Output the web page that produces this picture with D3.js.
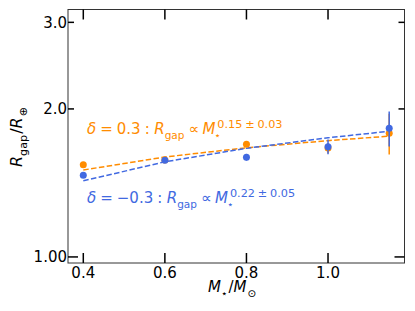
<!DOCTYPE html>
<html>
<head>
<meta charset="utf-8">
<script src="https://cdn.jsdelivr.net/npm/d3@7"></script>
<style>
  body { margin: 0; background: #fff; }
  text { font-family: "DejaVu Sans", sans-serif; }
</style>
</head>
<body>
<script>
// stellar mass bins and gap radius for the two delta runs
const masses = [0.4, 0.6, 0.8, 1.0, 1.15]
const rgapPos = [1.54, 1.575, 1.695, 1.665, 1.785]
const errPos = [0.015, 0.015, 0.02, 0.04, 0.17]
const rgapNeg = [1.466, 1.572, 1.595, 1.676, 1.827]
const errNeg = [0.015, 0.015, 0.025, 0.058, 0.15]

// power law fits R = amp * M^slope
const fitAmpPos = 1.724, fitSlopePos = 0.15
const fitAmpNeg = 1.747, fitSlopeNeg = 0.22

const xTicks = [0.4, 0.6, 0.8, 1.0]
const xTickLabels = ['0.4', '0.6', '0.8', '1.0']
const yMajor = [1], yMajorLabels = ['1.00']
const yMinor = [2, 3], yMinorLabels = ['2.0', '3.0']

const width = 415, height = 311
const box = {left: 68, right: 404.5, top: 9.5, bottom: 263}
const orange = '#ff8c00', blue = '#4169e1'
const fs = 15

const svg = d3.select('body').append('svg')
  .attr('width', width)
  .attr('height', height)

const x = d3.scaleLinear().domain([0.3625, 1.1875]).range([box.left, box.right])
const y = d3.scaleLog().domain([0.972, 3.186]).range([box.bottom, box.top])

// fit evaluated at the mass bins, joined by straight segments
const fitLine = d3.line().x(d => x(d[0])).y(d => y(d[1]))
const drawFit = (amp, slope, col) => {
  const pts = masses.map(m => [m, amp * Math.pow(m, slope)])
  svg.append('path')
    .attr('d', fitLine(pts))
    .attr('fill', 'none')
    .attr('stroke', col)
    .attr('stroke-width', 1.5)
    .attr('stroke-dasharray', '5.5,2.4')
}
drawFit(fitAmpPos, fitSlopePos, orange)
drawFit(fitAmpNeg, fitSlopeNeg, blue)

// points with error bars
const drawPoints = (vals, errs, col) => {
  const g = svg.append('g')
  g.selectAll('line')
    .data(masses)
    .enter().append('line')
      .attr('x1', d => x(d)).attr('x2', d => x(d))
      .attr('y1', (d, i) => y(vals[i] - errs[i]))
      .attr('y2', (d, i) => y(vals[i] + errs[i]))
      .attr('stroke', col)
      .attr('stroke-width', 1.5)
  g.selectAll('circle')
    .data(masses)
    .enter().append('circle')
      .attr('cx', d => x(d))
      .attr('cy', (d, i) => y(vals[i]))
      .attr('r', 3.5)
      .attr('fill', col)
}
drawPoints(rgapPos, errPos, orange)
drawPoints(rgapNeg, errNeg, blue)

// frame
svg.append('rect')
  .attr('x', box.left).attr('y', box.top)
  .attr('width', box.right - box.left)
  .attr('height', box.bottom - box.top)
  .attr('fill', 'none')
  .attr('stroke', '#333')
  .attr('stroke-width', 1)

// ticks, all pointing inward
const tick = (x1, y1, x2, y2) => svg.append('line')
  .attr('x1', x1).attr('y1', y1).attr('x2', x2).attr('y2', y2)
  .attr('stroke', '#000').attr('stroke-width', 1.5)

xTicks.forEach((t, i) => {
  tick(x(t), box.bottom, x(t), box.bottom - 10)
  tick(x(t), box.top, x(t), box.top + 10)
  svg.append('text')
    .attr('x', x(t)).attr('y', 278.3)
    .attr('text-anchor', 'middle')
    .attr('font-size', fs)
    .text(xTickLabels[i])
})
const yLabel = (t, s) => svg.append('text')
  .attr('x', 67).attr('y', y(t) + 5.4)
  .attr('text-anchor', 'end')
  .attr('font-size', fs)
  .text(s)
yMajor.forEach((t, i) => {
  tick(box.left, y(t), box.left + 10, y(t))
  tick(box.right, y(t), box.right - 10, y(t))
  yLabel(t, yMajorLabels[i])
})
yMinor.forEach((t, i) => {
  tick(box.left, y(t), box.left + 6, y(t))
  tick(box.right, y(t), box.right - 6, y(t))
  yLabel(t, yMinorLabels[i])
})

// little mathtext-ish layout: pieces placed one after another
const mathText = (parent, x0, y0, pieces, col, size) => {
  let cx = x0
  let back = 0
  pieces.forEach(p => {
    const f = p.sub ? size * 0.7 : p.sup ? size * 0.75 : size
    const dy = p.sub ? size * 0.3 : p.sup ? -size * 0.4 : 0
    if (p.sup && back) cx -= back
    cx += p.gap || 0
    const t = parent.append('text')
      .attr('x', cx).attr('y', y0 + dy)
      .attr('font-size', f)
      .attr('fill', col)
      .attr('font-style', p.it ? 'italic' : 'normal')
      .text(p.t)
    const w = t.node().getComputedTextLength()
    cx += w + (p.after || 0)
    back = p.stack ? w : 0
  })
}

const fitLabel = (val, expo, err) => [
  {t: 'δ', it: true},
  {t: '=', gap: 4},
  {t: val, gap: 4},
  {t: ':', gap: 4},
  {t: 'R', it: true, gap: 4.5},
  {t: 'gap', sub: true},
  {t: '∝', gap: 4.3},
  {t: 'M', it: true, gap: 3},
  {t: '⋆', sub: true, stack: true, gap: -1},
  {t: expo, sup: true, gap: 3},
  {t: '±', sup: true, gap: 2.8},
  {t: err, sup: true, gap: 2.8}
]
mathText(svg, 87, 134, fitLabel('0.3', '0.15', '0.03'), orange, fs)
mathText(svg, 87, 203, fitLabel('−0.3', '0.22', '0.05'), blue, fs)

// axis labels
mathText(svg, 208, 292, [
  {t: 'M', it: true},
  {t: '⋆', sub: true},
  {t: '/', gap: 1},
  {t: 'M', it: true},
  {t: '⊙', sub: true, gap: 1}
], '#000', fs)

const yl = svg.append('g').attr('transform', 'translate(22,167) rotate(-90)')
mathText(yl, 0, 0, [
  {t: 'R', it: true},
  {t: 'gap', sub: true},
  {t: '/', gap: 1},
  {t: 'R', it: true},
  {t: '⊕', sub: true, gap: 1}
], '#000', 16)
</script>
</body>
</html>
